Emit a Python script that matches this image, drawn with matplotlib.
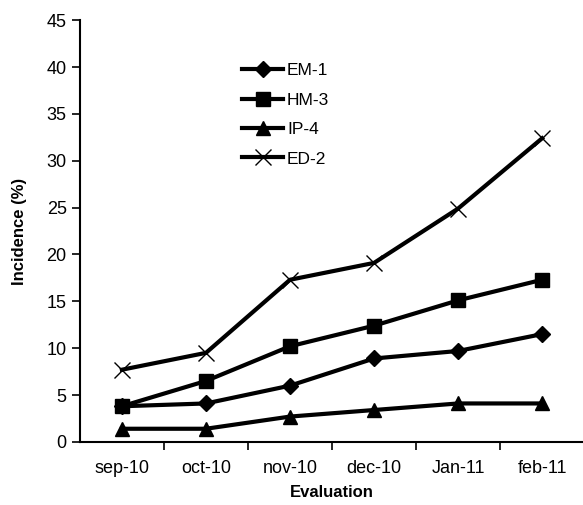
import numpy as np
import matplotlib.pyplot as plt

months = ['sep-10', 'oct-10', 'nov-10', 'dec-10', 'Jan-11', 'feb-11']
em1 = [3.8, 4.1, 6.0, 8.9, 9.7, 11.5]
hm3 = [3.8, 6.5, 10.2, 12.4, 15.1, 17.3]
ip4 = [1.4, 1.4, 2.7, 3.4, 4.1, 4.1]
ed2 = [7.7, 9.5, 17.3, 19.1, 24.9, 32.4]

plt.rcParams['font.family'] = ['Liberation Sans', 'DejaVu Sans']

fig = plt.figure(figsize=(5.83, 5.05), dpi=100)
ax = fig.add_axes([0.137, 0.125, 0.865, 0.835])

x = np.arange(len(months))
ax.plot(x, em1, color='black', lw=3, marker='D', ms=8, label='EM-1')
ax.plot(x, hm3, color='black', lw=3, marker='s', ms=10, label='HM-3')
ax.plot(x, ip4, color='black', lw=3, marker='^', ms=10, label='IP-4')
ax.plot(x, ed2, color='black', lw=3, marker='x', ms=11, mew=1, label='ED-2')

ax.set_xlim(-0.5, 5.5)
ax.set_ylim(0, 45)
ax.set_yticks(range(0, 46, 5))
ax.set_xticks(np.arange(0.5, 5, 1))
ax.set_xticklabels([])
ax.set_xticks(x, minor=True)
ax.set_xticklabels(months, minor=True)
ax.tick_params(axis='x', which='minor', length=0, pad=13, labelsize=13)
ax.tick_params(axis='x', which='major', length=6, width=1.2, direction='out')
ax.tick_params(axis='y', length=6, width=1.2, labelsize=13)

for s in ['top', 'right']:
    ax.spines[s].set_visible(False)
for s in ['left', 'bottom']:
    ax.spines[s].set_linewidth(1.5)

ax.set_xlabel('Evaluation', fontweight='bold', fontsize=12, labelpad=6)
ax.set_ylabel('Incidence (%)', fontweight='bold', fontsize=12, labelpad=14)

ax.legend(loc='upper left', bbox_to_anchor=(0.29, 0.935), frameon=False,
          fontsize=12.5, handlelength=2.4, labelspacing=0.82, handletextpad=0.2)

fig.savefig('out.png', dpi=100)
